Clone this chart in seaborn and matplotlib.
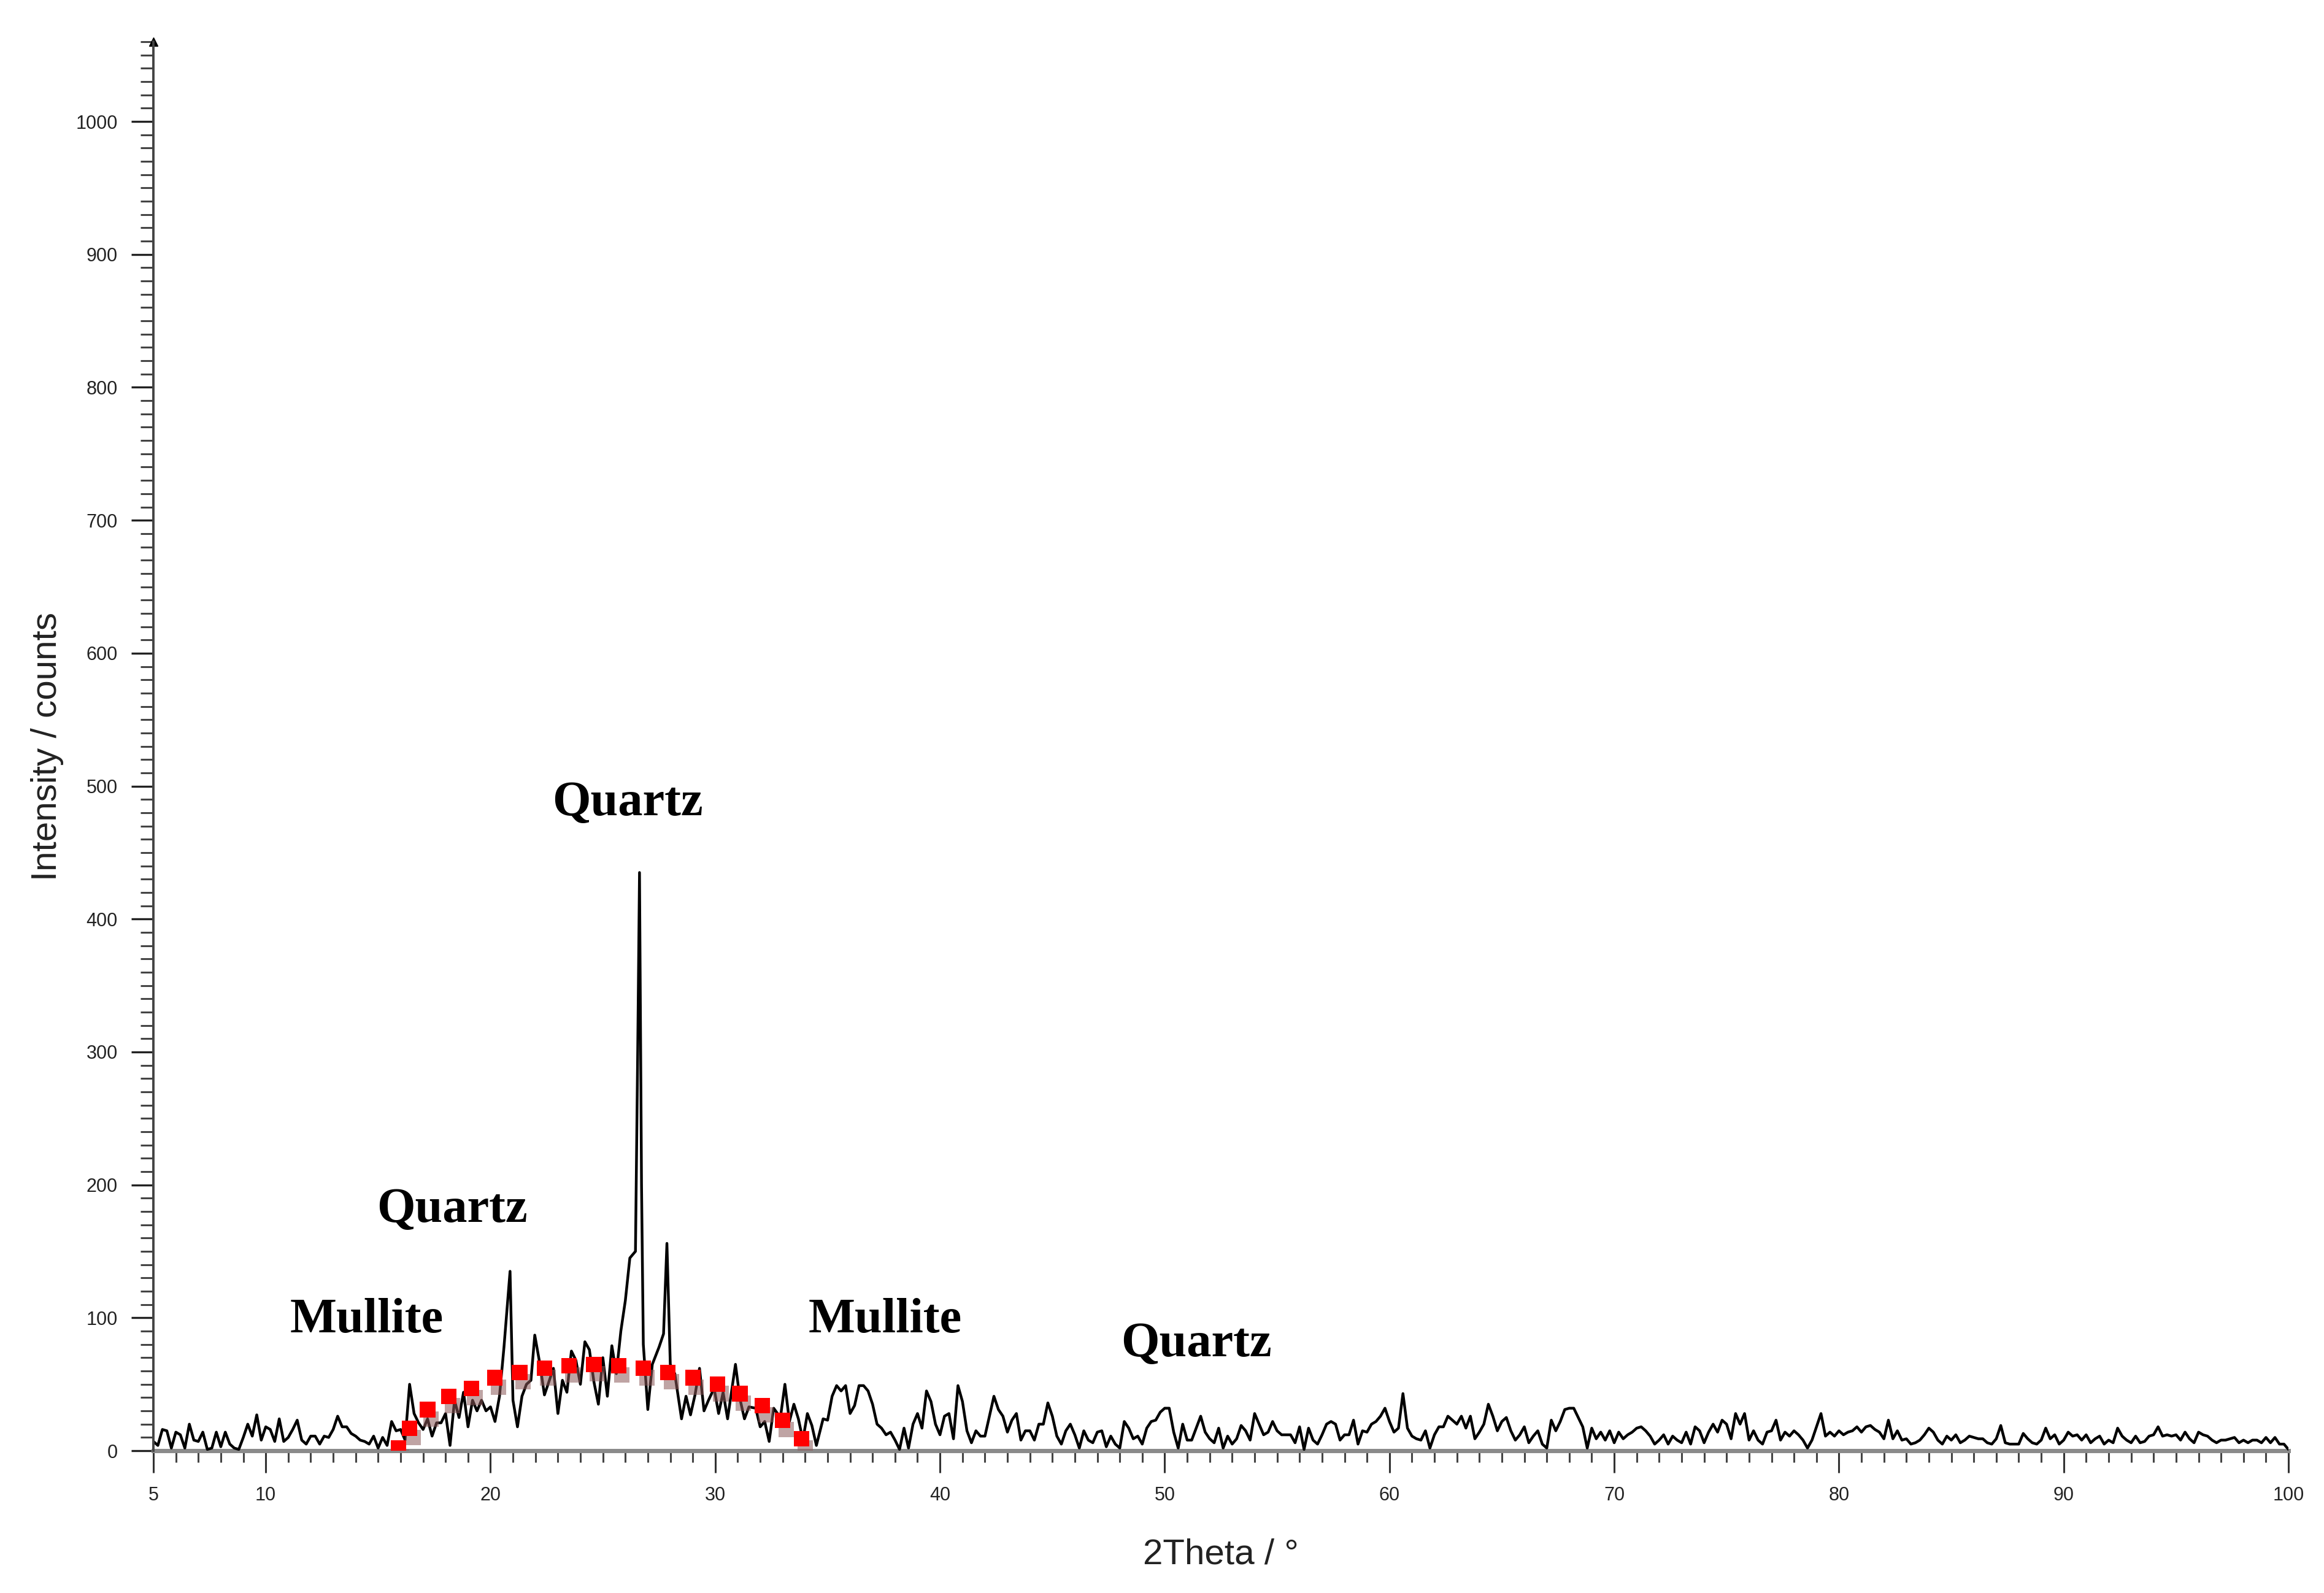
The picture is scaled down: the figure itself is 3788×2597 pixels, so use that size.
import numpy as np
import pandas as pd
import matplotlib.pyplot as plt
import matplotlib.patheffects as pe
from matplotlib.ticker import MultipleLocator
import seaborn as sns

sns.set_theme(style="ticks")
plt.rcParams["font.family"] = ["Liberation Sans", "DejaVu Sans"]

# step scan 5.0 - 19.8 deg, 0.2 deg steps
low_angle_counts = [
    7, 4, 16, 15, 2,  14, 12, 2, 20, 8,  7, 14, 1, 2, 14,  3, 14, 5, 2, 1,
    10, 20, 11, 27, 8,  18, 16, 7, 24, 7,  10, 16, 23, 8, 5,  11, 11, 5, 11, 10,
    16, 26, 18, 18, 13,  11, 8, 7, 5, 11,  2, 10, 4, 22, 15,  16, 8, 50, 28, 21,
    16, 24, 11, 21, 21,  28, 4, 38, 25, 44,  18, 38, 30, 38, 30,
]

# 20 - 35 deg, quartz reflections on top of the amorphous hump
mid_theta = [
    20.0, 20.2, 20.4, 20.6, 20.87, 21.0, 21.2, 21.4, 21.6, 21.8, 21.97, 22.2, 22.4,
    22.6, 22.8, 23.0, 23.2, 23.4, 23.6, 23.8, 24.0, 24.2, 24.4, 24.6, 24.8, 25.0,
    25.2, 25.4, 25.6, 25.8, 26.0, 26.2, 26.45, 26.55, 26.63, 26.72, 26.8, 27.0,
    27.2, 27.5, 27.7, 27.85, 28.0, 28.2, 28.5, 28.7, 28.9, 29.1, 29.3, 29.5, 29.7,
    29.95, 30.15, 30.35, 30.55, 30.9, 31.1, 31.3, 31.5, 31.8, 32.0, 32.2, 32.4,
    32.6, 32.9, 33.1, 33.3, 33.5, 33.7, 33.9, 34.1, 34.3, 34.5, 34.8,
]
mid_counts = [
    33, 22, 41, 78, 135, 38, 18, 41, 50, 53, 87, 65, 42,
    52, 62, 28, 53, 44, 75, 68, 50, 82, 76, 52, 35, 70,
    41, 79, 58, 90, 113, 145, 150, 300, 435, 200, 80, 31,
    65, 78, 88, 156, 65, 58, 24, 41, 27, 42, 62, 30, 38,
    47, 28, 44, 24, 65, 39, 24, 33, 32, 18, 22, 7,
    32, 25, 50, 22, 35, 24, 8, 28, 19, 4, 24,
]

# step scan 35.0 - 100.0 deg, 0.2 deg steps
high_angle_counts = [
    23, 41, 49, 45, 49,  28, 34, 49, 49, 45,  35, 20, 17, 12, 14,  8, 1, 17, 2, 20,
    28, 17, 45, 37, 20,  12, 26, 28, 9, 49,  37, 15, 6, 15, 11,  11, 26, 41, 31, 26,
    14, 23, 28, 8, 15,  15, 8, 20, 20, 36,  26, 11, 5, 15, 20,  12, 2, 15, 8, 6,
    14, 15, 3, 11, 5,  2, 22, 17, 9, 11,  5, 17, 22, 23, 29,  32, 32, 14, 2, 20,
    8, 8, 17, 26, 14,  9, 6, 17, 2, 11,  5, 9, 19, 15, 8,  28, 20, 12, 14, 22,
    15, 12, 12, 12, 6,  18, 1, 17, 8, 5,  12, 20, 22, 20, 8,  12, 12, 23, 5, 15,
    14, 20, 22, 26, 32,  22, 14, 17, 43, 17,  11, 9, 8, 15, 2,  12, 18, 18, 26, 23,
    20, 26, 17, 26, 9,  14, 20, 35, 26, 15,  22, 25, 15, 8, 12,  18, 6, 11, 15, 5,
    2, 23, 15, 22, 31,  32, 32, 25, 18, 2,  17, 9, 14, 8, 15,  6, 14, 9, 12, 14,
    17, 18, 15, 11, 5,  8, 12, 5, 11, 8,  6, 14, 5, 18, 15,  6, 14, 20, 14, 23,
    20, 9, 28, 20, 28,  8, 15, 8, 5, 14,  15, 23, 8, 14, 11,  15, 12, 8, 2, 8,
    18, 28, 11, 14, 11,  15, 12, 14, 15, 18,  14, 18, 19, 16, 14,  9, 23, 9, 15, 8,
    9, 5, 6, 8, 12,  17, 14, 8, 5, 11,  8, 12, 6, 8, 11,  10, 9, 9, 6, 5,
    9, 19, 6, 5, 5,  5, 13, 9, 6, 5,  8, 17, 9, 12, 5,  8, 14, 11, 12, 8,
    12, 6, 9, 11, 5,  8, 6, 17, 11, 8,  6, 11, 6, 7, 11,  12, 18, 11, 12, 11,
    12, 8, 14, 9, 6,  14, 12, 11, 8, 6,  8, 8, 9, 10, 6,  8, 6, 8, 8, 6,
    10, 6, 10, 5, 5,  1,
]

# amorphous hump guide (red dotted)
hump_theta = [15.9, 16.4, 17.2, 18.15, 19.15, 20.2, 21.3, 22.4, 23.5, 24.6,
              25.7, 26.8, 27.9, 29.0, 30.1, 31.1, 32.1, 33.0, 33.85]
hump_counts = [2, 17, 31, 41, 47, 55, 59, 62, 64, 65,
               64, 62, 59, 55, 50, 43, 34, 23, 9]

label_text = ["Quartz", "Quartz", "Mullite", "Mullite", "Quartz"]
label_theta = [26.1, 18.3, 14.5, 37.55, 51.4]
label_counts = [478, 172, 89, 89, 71]

low_theta = np.round(5.0 + 0.2 * np.arange(len(low_angle_counts)), 2)
high_theta = np.round(35.0 + 0.2 * np.arange(len(high_angle_counts)), 2)
scan = pd.DataFrame({
    "2theta": np.concatenate([low_theta, mid_theta, high_theta]),
    "counts": np.concatenate([low_angle_counts, mid_counts, high_angle_counts]),
})
hump = pd.DataFrame({"2theta": hump_theta, "counts": hump_counts})

fig = plt.figure(figsize=(37.88, 25.97), dpi=100)
ax = fig.add_axes([0.066, 0.0893, 0.9187, 0.8845])

sns.lineplot(data=scan, x="2theta", y="counts", ax=ax, color="black",
             linewidth=3.2, sort=False, estimator=None, zorder=2)
dots = sns.scatterplot(data=hump, x="2theta", y="counts", ax=ax, color="#ff0000",
                       marker="s", s=330, linewidth=0, zorder=3)
dots.collections[-1].set_path_effects([
    pe.SimplePatchShadow(offset=(4, -11), shadow_rgbFace=(0.55, 0.35, 0.35), alpha=0.55),
    pe.Normal(),
])

for txt, tx, ty in zip(label_text, label_theta, label_counts):
    ax.text(tx, ty, txt, ha="center", va="baseline", fontsize=58,
            fontweight="bold", family="Liberation Serif", color="black")

ax.set_xlim(5, 100)
ax.set_ylim(0, 1060)

ax.set_xticks([5, 10, 20, 30, 40, 50, 60, 70, 80, 90, 100])
ax.xaxis.set_minor_locator(MultipleLocator(1))
ax.yaxis.set_major_locator(MultipleLocator(100))
ax.yaxis.set_minor_locator(MultipleLocator(10))
ax.set_yticks(range(0, 1001, 100))

ax.tick_params(axis="x", which="major", length=26, width=2.2, color="#333333",
               labelsize=22, pad=16, labelcolor="#222222")
ax.tick_params(axis="x", which="minor", length=14, width=2.2, color="#444444")
ax.tick_params(axis="y", which="major", length=26, width=2.4, color="#222222",
               labelsize=22, pad=16, labelcolor="#222222")
ax.tick_params(axis="y", which="minor", length=15, width=2.2, color="#444444")

sns.despine(ax=ax)
ax.spines["left"].set_color("#444444")
ax.spines["left"].set_linewidth(2.8)
ax.spines["bottom"].set_color("#8a8a8a")
ax.spines["bottom"].set_linewidth(5)
ax.spines["bottom"].set_zorder(1)

# arrow head at the top of the intensity axis
ax.plot([0], [1], marker="^", markersize=10, color="black",
        transform=ax.transAxes, clip_on=False)

ax.set_xlabel("2Theta / °", fontsize=42, color="#222222")
ax.set_ylabel("Intensity / counts", fontsize=42, color="#222222")
ax.xaxis.set_label_coords(0.5, -0.062)
ax.yaxis.set_label_coords(-0.042, 0.5)

ax.set_facecolor("white")
fig.patch.set_facecolor("white")
fig.savefig("out.png", dpi=100)
